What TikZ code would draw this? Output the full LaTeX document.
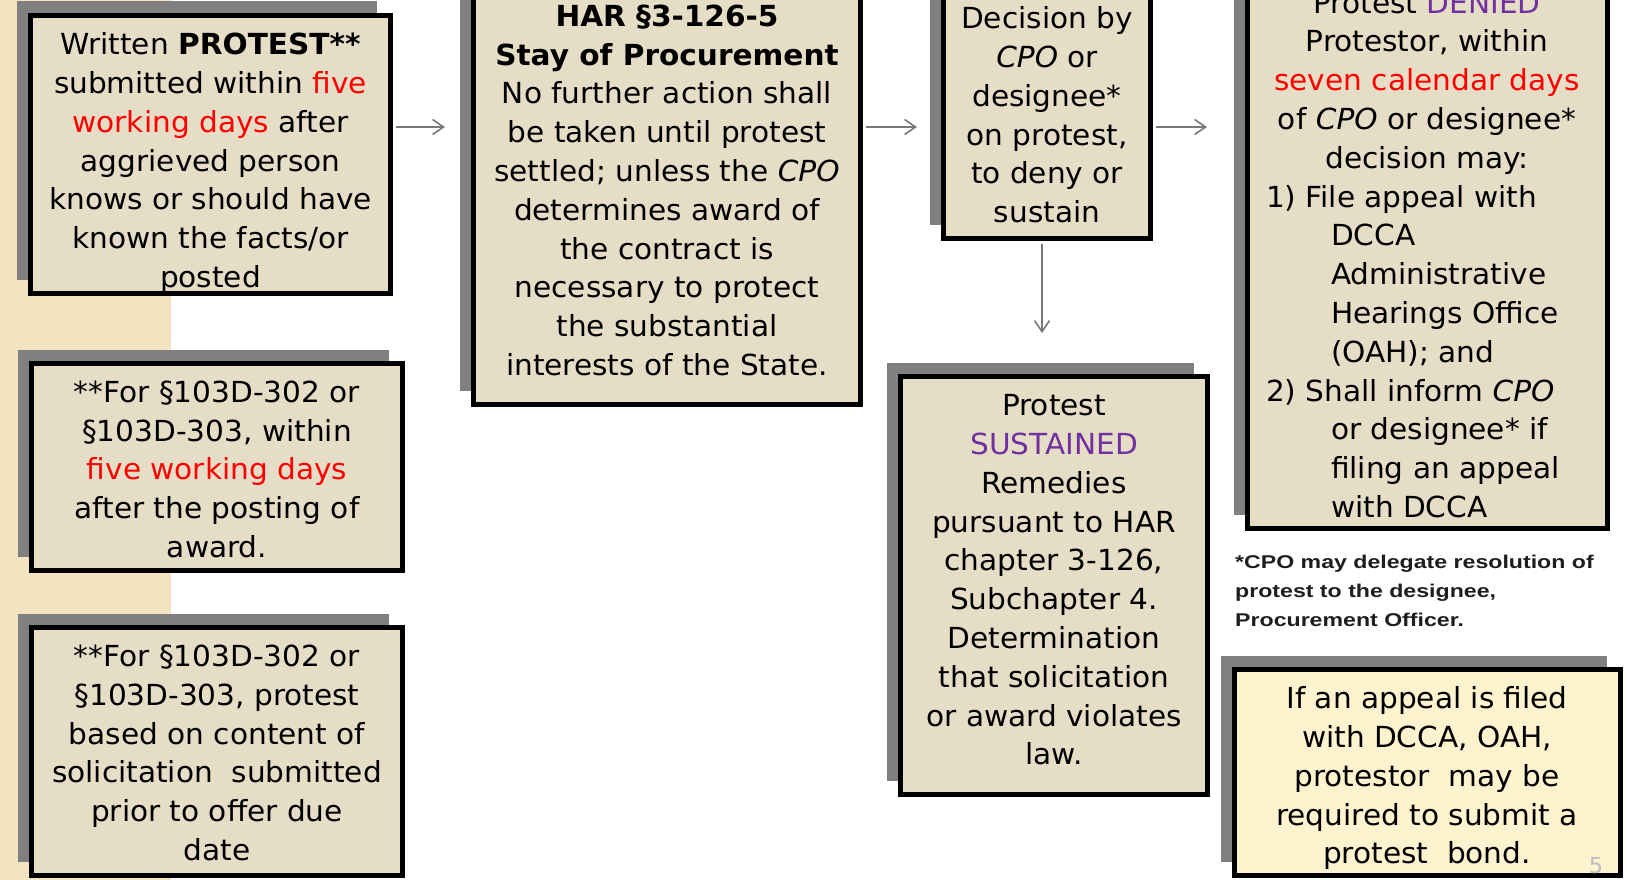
\documentclass[tikz,border=0pt]{standalone}
\usepackage{fontspec}
\setmainfont[FakeStretch=1.02]{DejaVu Sans}
\newfontfamily\notefont[FakeStretch=1.25]{Liberation Sans}
\usetikzlibrary{arrows.meta,shadows}
\definecolor{boxfill}{RGB}{230,221,199}
\definecolor{notefill}{RGB}{255,242,207}
\definecolor{stripbeige}{RGB}{243,227,192}
\definecolor{shadowgray}{RGB}{128,128,128}
\definecolor{arrowgray}{RGB}{120,120,120}
\definecolor{hired}{RGB}{255,0,0}
\definecolor{hipurple}{RGB}{112,48,160}
\definecolor{pagegray}{RGB}{190,190,190}
\definecolor{notetext}{RGB}{30,30,30}
\newcommand\denyline[1]{\makebox[322pt][l]{#1}}
\begin{document}
\begin{tikzpicture}[x=1pt,y=-1pt,
  panel/.style={draw=black, line width=5pt, fill=boxfill, inner sep=0pt,
    general shadow={fill=shadowgray, shadow xshift=-14pt, shadow yshift=14pt}},
  txt/.style={align=center, inner sep=0pt, yshift=-6pt, font=\fontsize{29}{38.8}\selectfont,
    execute at begin node=\strut, execute at end node=\strut},
  notestyle/.style={align=left, inner sep=0pt, text=notetext,
    font=\notefont\bfseries\fontsize{18.5}{29}\selectfont,
    execute at begin node=\strut, execute at end node=\strut},
  flow/.style={draw=arrowgray, line width=1.6pt, shorten <=2.5pt,
    -{Straight Barb[length=11pt,width=15pt]}}
]
\useasboundingbox (0,0) rectangle (1627,880);
\clip (0,0) rectangle (1627,880);
\fill[white] (0,0) rectangle (1627,880);
\fill[stripbeige] (0,0) rectangle (171,880);

% boxes
\node[panel, minimum width=360pt, minimum height=278pt] (written) at (210.5,154.5) {};
\node[panel, minimum width=371pt, minimum height=207pt] (posting) at (217,467) {};
\node[panel, minimum width=371pt, minimum height=248pt] (content) at (217,751.5) {};
\node[panel, minimum width=387pt, minimum height=420pt] (har) at (667,194.5) {};
\node[panel, minimum width=207pt, minimum height=250pt] (decision) at (1047,113.5) {};
\node[panel, minimum width=360pt, minimum height=553pt] (denied) at (1427.5,252) {};
\node[panel, minimum width=307pt, minimum height=418pt] (sustained) at (1054,585.5) {};
\node[panel, fill=notefill, minimum width=386pt, minimum height=206pt] (bond) at (1427.5,772.5) {};

% connectors
\coordinate (a1) at (445,127);
\coordinate (a2) at (917,127);
\coordinate (a3) at (1207,127);
\coordinate (a4) at (1042,333);
\draw[flow] (written.east |- a1) -- (a1);
\draw[flow] (har.east |- a2) -- (a2);
\draw[flow] (decision.east |- a3) -- (a3);
\draw[flow] (decision.south -| a4) -- (a4);

% texts
\node[txt] (writtenT) at (210.5,160) {Written \textbf{PROTEST**}\\submitted within \textcolor{hired}{five}\\\textcolor{hired}{working days} after\\aggrieved person\\knows or should have\\known the facts/or\\posted};
\node[txt] (postingT) at (217,469) {**For §103D-302 or\\§103D-303, within\\\textcolor{hired}{five working days}\\after the posting of\\award.};
\node[txt] (contentT) at (217,752.5) {**For §103D-302 or\\§103D-303, protest\\based on content of\\solicitation\ \ submitted\\prior to offer due\\date};
\node[txt] (harT) at (667,190) {\textbf{HAR §3-126-5}\\\textbf{Stay of Procurement}\\No further action shall\\be taken until protest\\settled; unless the \textit{CPO}\\determines award of\\the contract is\\necessary to protect\\the substantial\\interests of the State.};
\node[txt] (decisionT) at (1047,114.5) {Decision by\\\textit{CPO} or\\designee*\\on protest,\\to deny or\\sustain};
\node[txt] (deniedT) at (1427,254.5) {Protest \textcolor{hipurple}{DENIED}\\Protestor, within\\\textcolor{hired}{seven calendar days}\\of \textit{CPO} or designee*\\decision may:\\\denyline{1)\ File appeal with}\\\denyline{\hspace*{65pt}DCCA}\\\denyline{\hspace*{65pt}Administrative}\\\denyline{\hspace*{65pt}Hearings Office}\\\denyline{\hspace*{65pt}(OAH); and}\\\denyline{2)\ Shall inform \textit{CPO}}\\\denyline{\hspace*{65pt}or designee* if}\\\denyline{\hspace*{65pt}filing an appeal}\\\denyline{\hspace*{65pt}with DCCA}};
\node[txt] (sustainedT) at (1054,579.5) {Protest\\\textcolor{hipurple}{SUSTAINED}\\Remedies\\pursuant to HAR\\chapter 3-126,\\Subchapter 4.\\Determination\\that solicitation\\or award violates\\law.};
\node[txt] (bondT) at (1427,775) {If an appeal is filed\\with DCCA, OAH,\\protestor\ \ may be\\required to submit a\\protest\ \ bond.};
\node[notestyle, anchor=west] (note) at (1235,595) {*CPO may delegate resolution of\\protest to the designee,\\Procurement Officer.};
\node[inner sep=0pt, text=pagegray, font=\fontsize{22}{22}\selectfont] (pagenum) at (1596,866) {5};
\end{tikzpicture}
\end{document}
